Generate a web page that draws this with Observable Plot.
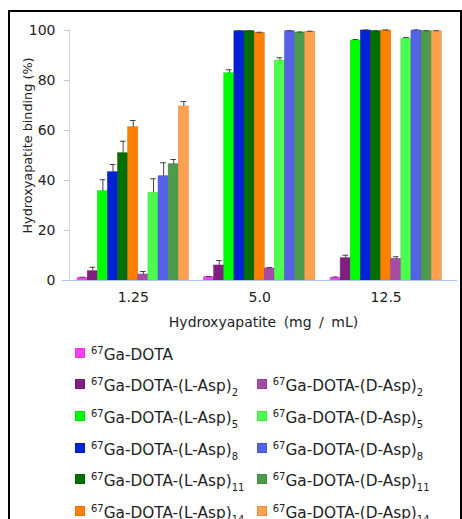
<!DOCTYPE html>
<html><head><meta charset="utf-8">
<script src="https://cdn.jsdelivr.net/npm/d3@7"></script>
<script src="https://cdn.jsdelivr.net/npm/@observablehq/plot@0.6"></script>
<style>
body{margin:0;background:#fff;width:462px;height:519px;overflow:hidden;position:relative;font-family:"DejaVu Sans",sans-serif;color:#222}
#chart{position:absolute;left:0;top:0}
#frame{position:absolute;left:8px;top:10px;width:454px;height:540px;border:2px solid #000;border-bottom:none;box-sizing:border-box;pointer-events:none}
#legend{position:absolute;left:75px;top:337px;display:grid;grid-template-columns:181.7px auto;grid-auto-rows:31.6px}
.item{display:flex;align-items:center;white-space:nowrap;font-size:15.3px}
.sw{display:inline-block;width:10px;height:10px;margin-right:6px;box-sizing:border-box}
.txt{position:relative;top:2px}
sup{font-size:10px;vertical-align:6px;line-height:0}
sub{font-size:10px;vertical-align:-5px;line-height:0}
</style></head>
<body>
<div id="chart"></div>
<div id="legend"></div>
<div id="frame"></div>
<script>
const groups = ["1.25", "5.0", "12.5"];
const seriesKeys = ["DOTA", "L2", "L5", "L8", "L11", "L14", "D2", "D5", "D8", "D11", "D14"];
const seriesColors = ["#ff3dff", "#801f80", "#00ff00", "#0022d4", "#006e00", "#ff7f00",
                      "#a64ca6", "#4dff4d", "#5561e6", "#4d9a4d", "#ffa050"];
// values (%) per concentration 1.25, 5.0, 12.5
const dota  = [1.0, 1.3, 1.1];   const dotaErr  = [0.3, 0.3, 0.3];
const lAsp2 = [3.7, 6.0, 8.9];   const lAsp2Err = [1.6, 2.0, 1.2];
const lAsp5 = [35.7, 82.9, 96.0]; const lAsp5Err = [4.6, 1.4, 0.4];
const lAsp8 = [43.3, 99.7, 100.0]; const lAsp8Err = [3.1, 0.2, 0.2];
const lAsp11 = [50.9, 99.7, 99.7]; const lAsp11Err = [4.8, 0.2, 0.2];
const lAsp14 = [61.3, 99.1, 100.0]; const lAsp14Err = [2.7, 0.2, 0.2];
const dAsp2 = [2.4, 4.8, 8.7];   const dAsp2Err = [1.2, 0.4, 0.8];
const dAsp5 = [35.1, 88.0, 96.8]; const dAsp5Err = [5.6, 1.1, 0.4];
const dAsp8 = [41.7, 99.7, 100.0]; const dAsp8Err = [5.4, 0.2, 0.2];
const dAsp11 = [46.5, 99.2, 99.7]; const dAsp11Err = [1.9, 0.2, 0.2];
const dAsp14 = [69.6, 99.5, 99.7]; const dAsp14Err = [2.0, 0.2, 0.2];
const yTicks = [0, 20, 40, 60, 80, 100];
const yTitle = "Hydroxyapatite binding (%)";
const xTitle = "Hydroxyapatite (mg / mL)";
const legendRows = [["DOTA"], ["L2", "D2"], ["L5", "D5"], ["L8", "D8"], ["L11", "D11"], ["L14", "D14"]];

const seriesValues = [dota, lAsp2, lAsp5, lAsp8, lAsp11, lAsp14, dAsp2, dAsp5, dAsp8, dAsp11, dAsp14];
const seriesErrs = [dotaErr, lAsp2Err, lAsp5Err, lAsp8Err, lAsp11Err, lAsp14Err, dAsp2Err, dAsp5Err, dAsp8Err, dAsp11Err, dAsp14Err];

const groupStep = seriesKeys.length + 1.5;
const xMin = -0.8, xMax = (groups.length - 1) * groupStep + seriesKeys.length + 1.55;
const rows = [];
groups.forEach((g, gi) => seriesKeys.forEach((s, si) => {
  const v = seriesValues[si][gi], e = seriesErrs[si][gi];
  rows.push({group: g, series: s, pos: gi * groupStep + si, value: v, top: v + e, color: seriesColors[si]});
}));
const centers = groups.map((g, gi) => gi * groupStep + seriesKeys.length / 2);

const chart = Plot.plot({
  width: 462, height: 340,
  marginLeft: 69, marginRight: 5, marginTop: 30, marginBottom: 60,
  x: {domain: [xMin, xMax], axis: null},
  y: {domain: [0, 100], axis: null},
  color: {type: "identity"},
  style: {fontFamily: "DejaVu Sans, sans-serif", color: "#222", background: "transparent"},
  marks: [
    Plot.ruleX([xMin], {y1: 0, y2: 100, stroke: "#d4d4d4"}),
    Plot.axisY({ticks: yTicks, tickSize: 5, tickPadding: 9, fontSize: 14, stroke: "#c8c8c8", fill: "#222", label: null}),
    Plot.rectY(rows, {x1: "pos", x2: d => d.pos + 1, y1: 0, y2: "value", fill: "color", stroke: d => d3.color(d.color).darker(0.4).formatHex(), strokeWidth: 0.5}),
    Plot.ruleX(rows, {x: d => d.pos + 0.5, y1: "value", y2: "top", stroke: "#444", strokeWidth: 1}),
    Plot.ruleY(rows, {y: "top", x1: d => d.pos + 0.22, x2: d => d.pos + 0.78, stroke: "#444", strokeWidth: 1}),
    Plot.ruleY([0], {stroke: "#a8c8ec", strokeWidth: 1.2, insetLeft: -7}),
    Plot.axisX({ticks: centers, tickFormat: d => groups[centers.indexOf(d)], tickSize: 0, tickPadding: 12, fontSize: 14, label: null}),
    Plot.text([xTitle], {frameAnchor: "bottom", dy: 46, fontSize: 14, fill: "#222"}),
    Plot.text([yTitle], {frameAnchor: "left", textAnchor: "middle", rotate: -90, dx: -42, dy: -10, fontSize: 12.8, fill: "#222"})
  ]
});
document.getElementById("chart").appendChild(chart);
// wider word spacing as in the reference axis title
d3.select(chart).selectAll("text").filter(function() { return this.textContent === xTitle; }).attr("word-spacing", "3px");

function labelHtml(key) {
  if (key === "DOTA") return "<sup>67</sup>Ga-DOTA";
  const chir = key[0], n = key.slice(1);
  return `<sup>67</sup>Ga-DOTA-(${chir}-Asp)<sub>${n}</sub>`;
}
const leg = document.getElementById("legend");
legendRows.forEach(r => {
  [0, 1].forEach(c => {
    const div = document.createElement("div");
    div.className = "item";
    const key = r[c];
    if (key) {
      const col = seriesColors[seriesKeys.indexOf(key)];
      div.innerHTML = `<span class="sw" style="background:${col};border:1px solid ${d3.color(col).darker(0.3).formatHex()}"></span><span class="txt">${labelHtml(key)}</span>`;
    }
    leg.appendChild(div);
  });
});
</script>
</body></html>
